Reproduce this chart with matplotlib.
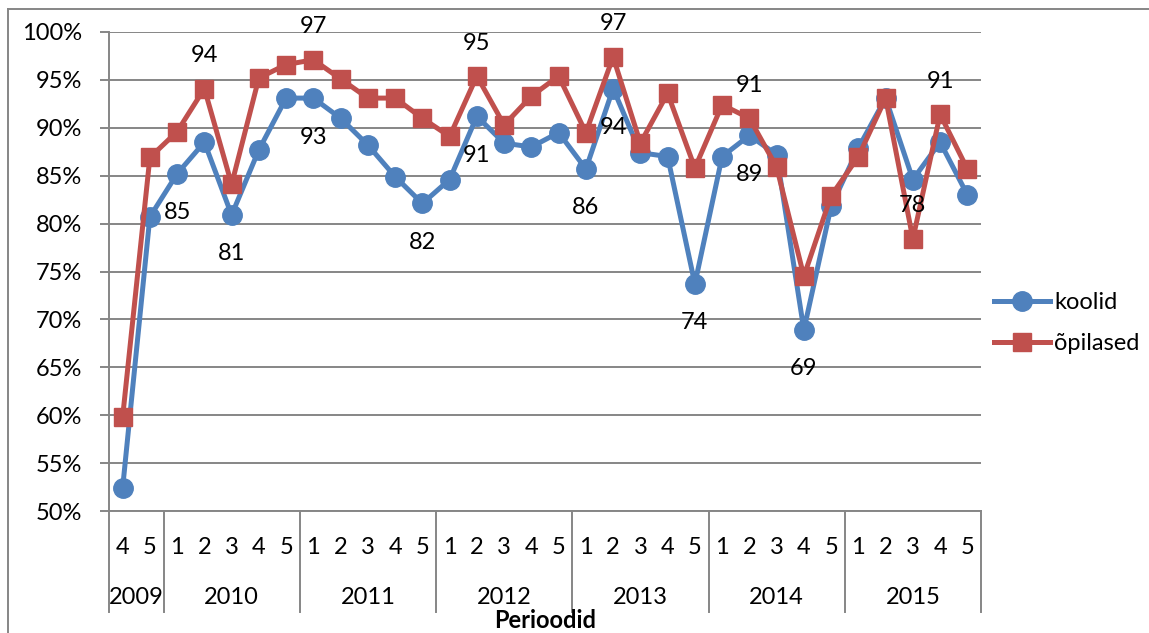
import matplotlib
matplotlib.use("Agg")
import matplotlib.pyplot as plt
import matplotlib.transforms as mtransforms
from matplotlib.lines import Line2D
from matplotlib.ticker import FuncFormatter, MultipleLocator

# ---- data ----
years = ["2009", "2010", "2011", "2012", "2013", "2014", "2015"]
year_periods = [[4, 5], [1, 2, 3, 4, 5], [1, 2, 3, 4, 5], [1, 2, 3, 4, 5],
                [1, 2, 3, 4, 5], [1, 2, 3, 4, 5], [1, 2, 3, 4, 5]]
koolid = [52.4, 80.7, 85.2, 88.5, 80.9, 87.7, 93.1, 93.1, 91.0, 88.2, 84.9, 82.1,
          84.6, 91.2, 88.4, 88.0, 89.5, 85.7, 94.1, 87.4, 87.0, 73.7,
          87.0, 89.2, 87.2, 68.9, 81.8, 87.9, 93.1, 84.6, 88.5, 83.0]
opilased = [59.8, 86.9, 89.6, 94.1, 84.1, 95.2, 96.6, 97.1, 95.1, 93.1, 93.1, 91.0,
            89.1, 95.4, 90.3, 93.3, 95.4, 89.5, 97.4, 88.4, 93.6, 85.8,
            92.4, 91.0, 85.9, 74.5, 82.9, 87.0, 93.1, 78.4, 91.4, 85.7]
series_names = ["koolid", "õpilased"]
koolid_labelled = [2, 4, 7, 11, 13, 17, 18, 21, 23, 25]
opilased_labelled = [3, 7, 13, 18, 23, 29, 30]
x_title = "Perioodid"

# ---- style ----
W, H, DPI = 1149, 633, 100
plt.rcParams['font.family'] = ['Lato', 'DejaVu Sans']
FS = 17
BLUE = "#4F81BD"
RED = "#C0504D"
GRID = "#868686"

fig = plt.figure(figsize=(W / DPI, H / DPI), dpi=DPI)
L, R, T, B = 109, 981, 32, 511
ax = fig.add_axes([L / W, 1 - B / H, (R - L) / W, (B - T) / H])

period_labels = [str(p) for ps in year_periods for p in ps]
x = list(range(len(period_labels)))

ax.plot(x, koolid, color=BLUE, lw=3.6, marker='o', ms=14, zorder=3,
        label=series_names[0])
ax.plot(x, opilased, color=RED, lw=3.6, marker='s', ms=13.5, zorder=4,
        label=series_names[1])

ax.set_xlim(-0.5, len(x) - 0.5)
ax.set_ylim(50, 100)
ax.yaxis.set_major_locator(MultipleLocator(5))
ax.yaxis.set_major_formatter(FuncFormatter(lambda v, p: f"{v:.0f}%"))
ax.grid(axis='y', color=GRID, lw=1.4, zorder=0)
ax.tick_params(axis='y', length=9 * 72 / DPI, width=1.4, color=GRID,
               labelsize=FS, pad=13)
for s in ['top', 'right']:
    ax.spines[s].set_visible(False)
for s in ['left', 'bottom']:
    ax.spines[s].set_color(GRID)
    ax.spines[s].set_linewidth(1.4)

ax.set_xticks(x)
ax.set_xticklabels(period_labels, fontsize=FS)
ax.tick_params(axis='x', length=0, pad=(549 - 511 - 12) * 72 / DPI)

# data labels
for i in koolid_labelled:
    ax.annotate(f"{koolid[i]:.0f}", (i, koolid[i]), xytext=(0, -39 * 72 / DPI),
                textcoords='offset points', ha='center', va='center',
                fontsize=FS, zorder=6, annotation_clip=False)
for i in opilased_labelled:
    ax.annotate(f"{opilased[i]:.0f}", (i, opilased[i]), xytext=(0, 33 * 72 / DPI),
                textcoords='offset points', ha='center', va='center',
                fontsize=FS, zorder=6, annotation_clip=False)

# multi-level category axis
tr = mtransforms.blended_transform_factory(ax.transData, fig.transFigure)
y_top = 1 - B / H
y_bot = 1 - 612 / H
bounds = [-0.5]
for ps in year_periods:
    bounds.append(bounds[-1] + len(ps))
for b in bounds:
    ax.add_line(Line2D([b, b], [y_top, y_bot], transform=tr, color=GRID,
                       lw=1.4, clip_on=False))
for k, yr in enumerate(years):
    xc = (bounds[k] + bounds[k + 1]) / 2
    ax.text(xc, 1 - 598 / H, yr, transform=tr, ha='center', va='center',
            fontsize=FS)
ax.text((bounds[0] + bounds[-1]) / 2, 1 - 620 / H, x_title, transform=tr,
        ha='center', va='center', fontsize=FS, fontweight='bold')

# legend
fig.legend(loc='center left', bbox_to_anchor=(982 / W, 1 - 323 / H),
           frameon=False, fontsize=FS, handlelength=2.4, handletextpad=0.15,
           labelspacing=0.85, borderpad=0)

# outer frame
fig.add_artist(Line2D([8 / W, 8 / W], [0, 1 - 9 / H], transform=fig.transFigure,
                      color=GRID, lw=1.4))
fig.add_artist(Line2D([8 / W, 1], [1 - 9 / H, 1 - 9 / H], transform=fig.transFigure,
                      color=GRID, lw=1.4))

fig.savefig("out.png", dpi=DPI)
